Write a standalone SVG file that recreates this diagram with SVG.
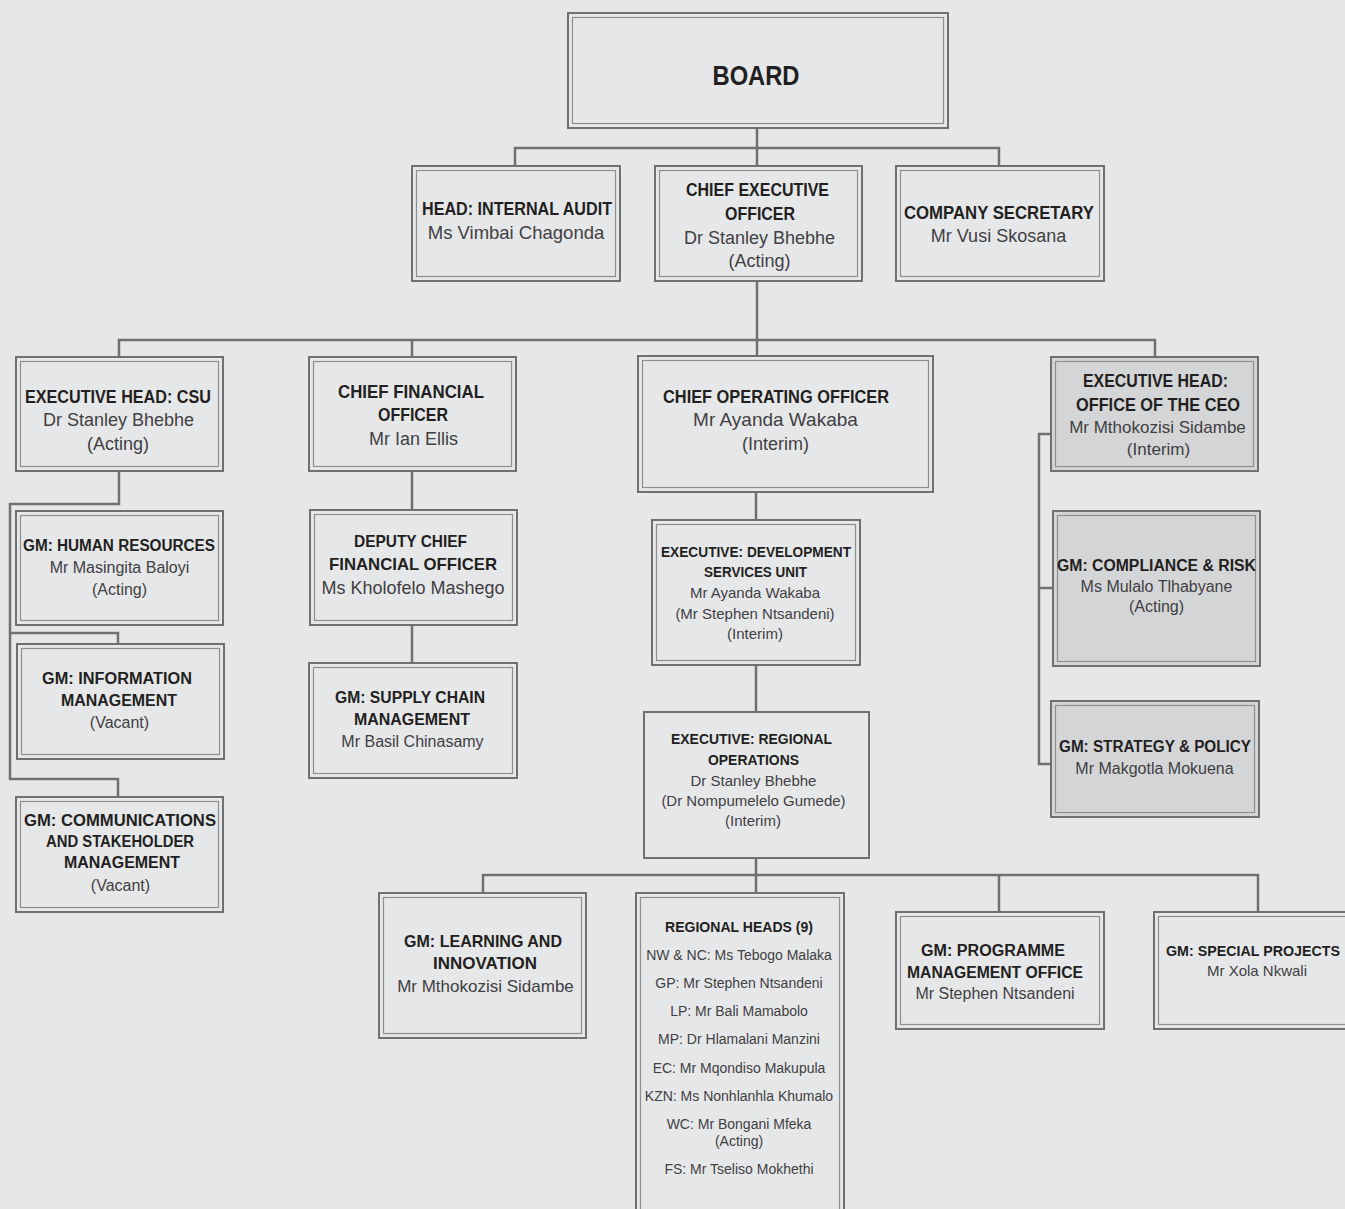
<svg xmlns="http://www.w3.org/2000/svg" width="1345" height="1209" viewBox="0 0 1345 1209">
<style>
.o{fill:#e6e7e9;stroke:#6f7072;stroke-width:2}
.og{fill:#d4d5d7;stroke:#6f7072;stroke-width:2}
.i{fill:none;stroke:#8e8f91;stroke-width:1.2}
.ln{fill:none;stroke:#6f7072;stroke-width:2.5}
.t{font-family:"Liberation Sans",Arial,sans-serif;font-weight:bold;fill:#231f20;text-anchor:middle}
.n{font-family:"Liberation Sans",Arial,sans-serif;fill:#414042;text-anchor:middle}
</style>
<rect width="1345" height="1209" fill="#e6e7e9"/>
<g id="connectors">
<path class="ln" d="M757 128V166M515 166V148H999V166"/>
<path class="ln" d="M757 281V356M119 357V340H1155V357M412 340V357"/>
<path class="ln" d="M119 471V504H10V779H118V797M10 633H118V644"/>
<path class="ln" d="M412 471V510M412 625V663"/>
<path class="ln" d="M756 492V520M756 665V712M756 858V893"/>
<path class="ln" d="M483 892V875H1258V912M999 875V912"/>
<path class="ln" d="M1051 434H1039V764H1051M1039 588H1053"/>
</g>
<g id="board">
<rect class="o" x="568" y="13" width="380" height="115"/><rect class="i" x="572.5" y="17.5" width="371" height="106"/>
<text class="t" x="756" y="85" font-size="28" textLength="87" lengthAdjust="spacingAndGlyphs">BOARD</text>
</g>
<g id="internal-audit">
<rect class="o" x="412" y="166" width="208" height="115"/><rect class="i" x="416.5" y="170.5" width="199" height="106"/>
<text class="t" x="517" y="214.5" font-size="18" textLength="190" lengthAdjust="spacingAndGlyphs">HEAD: INTERNAL AUDIT</text>
<text class="n" x="516" y="238.5" font-size="18.5">Ms Vimbai Chagonda</text>
</g>
<g id="ceo">
<rect class="o" x="655" y="166" width="207" height="115"/><rect class="i" x="659.5" y="170.5" width="198" height="106"/>
<text class="t" x="757.5" y="195.5" font-size="18" textLength="143" lengthAdjust="spacingAndGlyphs">CHIEF EXECUTIVE</text>
<text class="t" x="760" y="219.5" font-size="18" textLength="70" lengthAdjust="spacingAndGlyphs">OFFICER</text>
<text class="n" x="759.5" y="243.5" font-size="18">Dr Stanley Bhebhe</text>
<text class="n" x="759.5" y="266.5" font-size="18">(Acting)</text>
</g>
<g id="company-secretary">
<rect class="o" x="896" y="166" width="208" height="115"/><rect class="i" x="900.5" y="170.5" width="199" height="106"/>
<text class="t" x="999" y="218.5" font-size="18" textLength="190" lengthAdjust="spacingAndGlyphs">COMPANY SECRETARY</text>
<text class="n" x="998.5" y="241.5" font-size="18">Mr Vusi Skosana</text>
</g>
<g id="exec-head-csu">
<rect class="o" x="16" y="357" width="207" height="114"/><rect class="i" x="20.5" y="361.5" width="198" height="105"/>
<text class="t" x="118" y="402.5" font-size="18" textLength="186" lengthAdjust="spacingAndGlyphs">EXECUTIVE HEAD: CSU</text>
<text class="n" x="118.5" y="425.5" font-size="18">Dr Stanley Bhebhe</text>
<text class="n" x="118" y="449.5" font-size="18">(Acting)</text>
</g>
<g id="cfo">
<rect class="o" x="309" y="357" width="207" height="114"/><rect class="i" x="313.5" y="361.5" width="198" height="105"/>
<text class="t" x="411" y="397.5" font-size="18" textLength="146" lengthAdjust="spacingAndGlyphs">CHIEF FINANCIAL</text>
<text class="t" x="413" y="420.5" font-size="18" textLength="70" lengthAdjust="spacingAndGlyphs">OFFICER</text>
<text class="n" x="413.5" y="444.5" font-size="18">Mr Ian Ellis</text>
</g>
<g id="coo">
<rect class="o" x="638" y="356" width="295" height="136"/><rect class="i" x="642.5" y="360.5" width="286" height="127"/>
<text class="t" x="776" y="402.5" font-size="18" textLength="226" lengthAdjust="spacingAndGlyphs">CHIEF OPERATING OFFICER</text>
<text class="n" x="775.5" y="425.5" font-size="19">Mr Ayanda Wakaba</text>
<text class="n" x="775.5" y="449.5" font-size="18">(Interim)</text>
</g>
<g id="office-of-ceo">
<rect class="og" x="1051" y="357" width="207" height="114"/><rect class="i" x="1055.5" y="361.5" width="198" height="105"/>
<text class="t" x="1155.5" y="386.5" font-size="18" textLength="145" lengthAdjust="spacingAndGlyphs">EXECUTIVE HEAD:</text>
<text class="t" x="1158" y="410.5" font-size="18" textLength="164" lengthAdjust="spacingAndGlyphs">OFFICE OF THE CEO</text>
<text class="n" x="1157.5" y="433" font-size="17">Mr Mthokozisi Sidambe</text>
<text class="n" x="1158.5" y="455" font-size="17">(Interim)</text>
</g>
<g id="gm-hr">
<rect class="o" x="16" y="511" width="207" height="114"/><rect class="i" x="20.5" y="515.5" width="198" height="105"/>
<text class="t" x="119" y="551" font-size="16" textLength="192" lengthAdjust="spacingAndGlyphs">GM: HUMAN RESOURCES</text>
<text class="n" x="119.5" y="573" font-size="16">Mr Masingita Baloyi</text>
<text class="n" x="119.5" y="595" font-size="16">(Acting)</text>
</g>
<g id="gm-info">
<rect class="o" x="17" y="644" width="207" height="115"/><rect class="i" x="21.5" y="648.5" width="198" height="106"/>
<text class="t" x="117" y="684" font-size="16" textLength="150" lengthAdjust="spacingAndGlyphs">GM: INFORMATION</text>
<text class="t" x="119" y="706" font-size="16" textLength="116" lengthAdjust="spacingAndGlyphs">MANAGEMENT</text>
<text class="n" x="119.5" y="728" font-size="16">(Vacant)</text>
</g>
<g id="gm-comms">
<rect class="o" x="16" y="797" width="207" height="115"/><rect class="i" x="20.5" y="801.5" width="198" height="106"/>
<text class="t" x="120" y="826" font-size="16" textLength="192" lengthAdjust="spacingAndGlyphs">GM: COMMUNICATIONS</text>
<text class="t" x="120" y="847" font-size="16" textLength="148" lengthAdjust="spacingAndGlyphs">AND STAKEHOLDER</text>
<text class="t" x="122" y="868" font-size="16" textLength="116" lengthAdjust="spacingAndGlyphs">MANAGEMENT</text>
<text class="n" x="120.5" y="891" font-size="16">(Vacant)</text>
</g>
<g id="deputy-cfo">
<rect class="o" x="310" y="510" width="207" height="115"/><rect class="i" x="314.5" y="514.5" width="198" height="106"/>
<text class="t" x="410.5" y="547" font-size="17" textLength="113" lengthAdjust="spacingAndGlyphs">DEPUTY CHIEF</text>
<text class="t" x="413" y="570" font-size="17" textLength="168" lengthAdjust="spacingAndGlyphs">FINANCIAL OFFICER</text>
<text class="n" x="413" y="594" font-size="18">Ms Kholofelo Mashego</text>
</g>
<g id="gm-supply-chain">
<rect class="o" x="309" y="663" width="208" height="115"/><rect class="i" x="313.5" y="667.5" width="199" height="106"/>
<text class="t" x="410" y="703" font-size="16" textLength="150" lengthAdjust="spacingAndGlyphs">GM: SUPPLY CHAIN</text>
<text class="t" x="412" y="725" font-size="16" textLength="116" lengthAdjust="spacingAndGlyphs">MANAGEMENT</text>
<text class="n" x="412.5" y="747" font-size="16">Mr Basil Chinasamy</text>
</g>
<g id="exec-dev-services">
<rect class="o" x="652" y="520" width="208" height="145"/><rect class="i" x="656.5" y="524.5" width="199" height="136"/>
<text class="t" x="756" y="557" font-size="14" textLength="190" lengthAdjust="spacingAndGlyphs">EXECUTIVE: DEVELOPMENT</text>
<text class="t" x="755.5" y="577" font-size="14" textLength="103" lengthAdjust="spacingAndGlyphs">SERVICES UNIT</text>
<text class="n" x="755" y="597.5" font-size="15">Mr Ayanda Wakaba</text>
<text class="n" x="755" y="618.5" font-size="15">(Mr Stephen Ntsandeni)</text>
<text class="n" x="755" y="638.5" font-size="15">(Interim)</text>
</g>
<g id="exec-regional-ops">
<rect class="o" x="644" y="712" width="225" height="146"/>
<text class="t" x="751.5" y="744" font-size="14" textLength="161" lengthAdjust="spacingAndGlyphs">EXECUTIVE: REGIONAL</text>
<text class="t" x="753.5" y="765" font-size="14" textLength="91" lengthAdjust="spacingAndGlyphs">OPERATIONS</text>
<text class="n" x="753.5" y="785.5" font-size="15">Dr Stanley Bhebhe</text>
<text class="n" x="753.5" y="805.5" font-size="15">(Dr Nompumelelo Gumede)</text>
<text class="n" x="753" y="825.5" font-size="15">(Interim)</text>
</g>
<g id="gm-compliance">
<rect class="og" x="1053" y="511" width="207" height="155"/><rect class="i" x="1057.5" y="515.5" width="198" height="146"/>
<text class="t" x="1156.5" y="571" font-size="16" textLength="199" lengthAdjust="spacingAndGlyphs">GM: COMPLIANCE &amp; RISK</text>
<text class="n" x="1156.5" y="592" font-size="16">Ms Mulalo Tlhabyane</text>
<text class="n" x="1156.5" y="612" font-size="16">(Acting)</text>
</g>
<g id="gm-strategy">
<rect class="og" x="1051" y="701" width="208" height="116"/><rect class="i" x="1055.5" y="705.5" width="199" height="107"/>
<text class="t" x="1155" y="752" font-size="16" textLength="192" lengthAdjust="spacingAndGlyphs">GM: STRATEGY &amp; POLICY</text>
<text class="n" x="1154.5" y="774" font-size="16">Mr Makgotla Mokuena</text>
</g>
<g id="gm-learning">
<rect class="o" x="379" y="893" width="207" height="145"/><rect class="i" x="383.5" y="897.5" width="198" height="136"/>
<text class="t" x="483" y="947" font-size="17" textLength="158" lengthAdjust="spacingAndGlyphs">GM: LEARNING AND</text>
<text class="t" x="485" y="969" font-size="17" textLength="104" lengthAdjust="spacingAndGlyphs">INNOVATION</text>
<text class="n" x="485.5" y="992" font-size="17">Mr Mthokozisi Sidambe</text>
</g>
<g id="regional-heads">
<rect class="o" x="636" y="893" width="208" height="330"/><rect class="i" x="640.5" y="897.5" width="199" height="330"/>
<text class="t" x="739" y="932" font-size="15" textLength="148" lengthAdjust="spacingAndGlyphs">REGIONAL HEADS (9)</text>
<text class="n" x="739" y="960" font-size="14">NW &amp; NC: Ms Tebogo Malaka</text>
<text class="n" x="739" y="988" font-size="14">GP: Mr Stephen Ntsandeni</text>
<text class="n" x="739" y="1016" font-size="14">LP: Mr Bali Mamabolo</text>
<text class="n" x="739" y="1044" font-size="14">MP: Dr Hlamalani Manzini</text>
<text class="n" x="739" y="1073" font-size="14">EC: Mr Mqondiso Makupula</text>
<text class="n" x="739" y="1101" font-size="14">KZN: Ms Nonhlanhla Khumalo</text>
<text class="n" x="739" y="1129" font-size="14">WC: Mr Bongani Mfeka</text>
<text class="n" x="739" y="1146" font-size="14">(Acting)</text>
<text class="n" x="739" y="1174" font-size="14">FS: Mr Tseliso Mokhethi</text>
</g>
<g id="gm-programme">
<rect class="o" x="896" y="912" width="208" height="117"/><rect class="i" x="900.5" y="916.5" width="199" height="108"/>
<text class="t" x="993" y="956" font-size="16" textLength="144" lengthAdjust="spacingAndGlyphs">GM: PROGRAMME</text>
<text class="t" x="995" y="978" font-size="16" textLength="176" lengthAdjust="spacingAndGlyphs">MANAGEMENT OFFICE</text>
<text class="n" x="995" y="999" font-size="16">Mr Stephen Ntsandeni</text>
</g>
<g id="gm-special-projects">
<rect class="o" x="1154" y="912" width="210" height="117"/><rect class="i" x="1158.5" y="916.5" width="201" height="108"/>
<text class="t" x="1166" y="956" font-size="14.6" textLength="174" lengthAdjust="spacingAndGlyphs" style="text-anchor:start">GM: SPECIAL PROJECTS</text>
<text class="n" x="1257" y="975.5" font-size="15">Mr Xola Nkwali</text>
</g>
</svg>
